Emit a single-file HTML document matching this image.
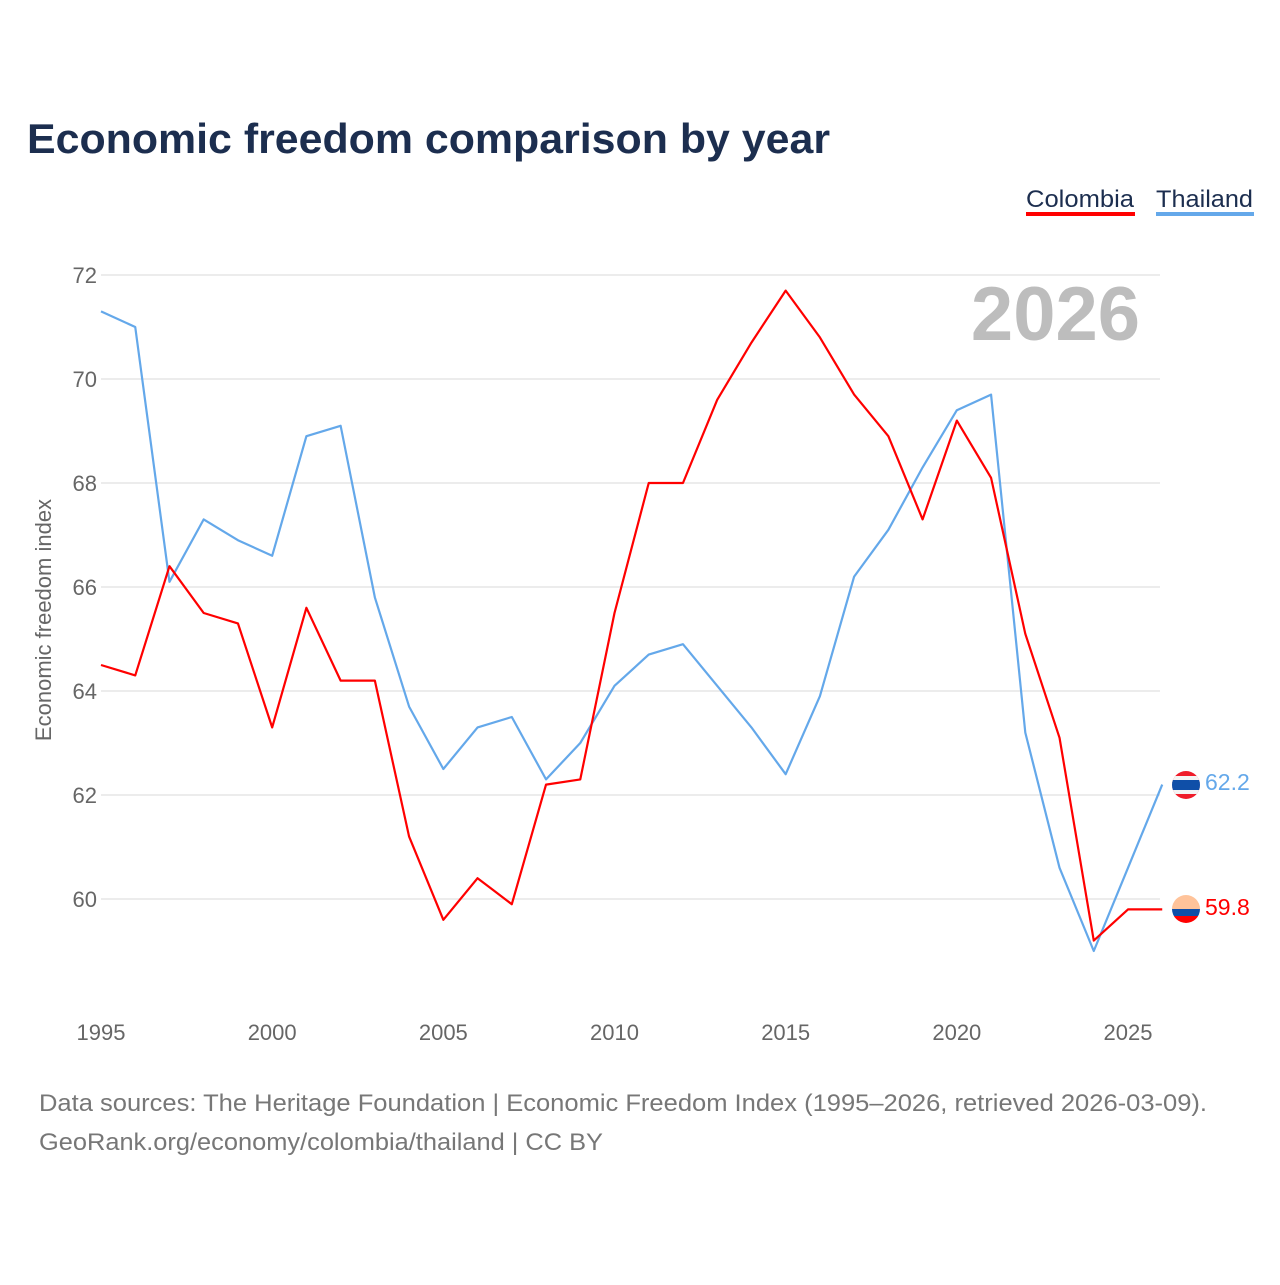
<!DOCTYPE html>
<html><head><meta charset="utf-8"><style>
body{margin:0;background:#fff;font-family:"Liberation Sans",sans-serif}
svg text{font-family:"Liberation Sans",sans-serif}
</style></head><body>
<svg width="1280" height="1280" viewBox="0 0 1280 1280">
<text x="27" y="153" font-size="42" font-weight="bold" fill="#1c2e4f" textLength="803" lengthAdjust="spacingAndGlyphs">Economic freedom comparison by year</text>
<g>
<text x="1026" y="207" font-size="24" fill="#1c2e4f" textLength="108" lengthAdjust="spacingAndGlyphs">Colombia</text>
<rect x="1026" y="212" width="109" height="4" fill="#ff0000"/>
<text x="1156" y="207" font-size="24" fill="#1c2e4f" textLength="97" lengthAdjust="spacingAndGlyphs">Thailand</text>
<rect x="1156" y="212" width="98" height="4" fill="#64a8ea"/>
</g>
<text x="1140" y="340" font-size="76" font-weight="bold" fill="#bdbdbd" text-anchor="end">2026</text>
<text transform="translate(51,620) rotate(-90)" font-size="22" fill="#666" text-anchor="middle">Economic freedom index</text>
<g id="grid"></g><g id="xt"></g><g id="lines"></g>
<defs>
<clipPath id="c1"><circle cx="1186" cy="785" r="14"/></clipPath>
<clipPath id="c2"><circle cx="1186" cy="909" r="14"/></clipPath>
</defs>
<g clip-path="url(#c1)">
<rect x="1172" y="771" width="28" height="28" fill="#ef1c2a"/>
<rect x="1172" y="776" width="28" height="18" fill="#f4f4f4"/>
<rect x="1172" y="780" width="28" height="10" fill="#0f4fa8"/>
</g>
<g clip-path="url(#c2)">
<rect x="1172" y="895" width="28" height="14" fill="#ffc39a"/>
<rect x="1172" y="909" width="28" height="7" fill="#0f4fa8"/>
<rect x="1172" y="916" width="28" height="7" fill="#ff0000"/>
</g>
<text x="1205" y="790" font-size="23" fill="#64a8ea">62.2</text>
<text x="1205" y="915" font-size="23" fill="#ff0000">59.8</text>
<text x="39" y="1111" font-size="24" fill="#777" textLength="1168" lengthAdjust="spacingAndGlyphs">Data sources: The Heritage Foundation | Economic Freedom Index (1995–2026, retrieved 2026-03-09).</text>
<text x="39" y="1150" font-size="24" fill="#777" textLength="564" lengthAdjust="spacingAndGlyphs">GeoRank.org/economy/colombia/thailand | CC BY</text>
</svg>
<script>
const years=[1995,1996,1997,1998,1999,2000,2001,2002,2003,2004,2005,2006,2007,2008,2009,2010,2011,2012,2013,2014,2015,2016,2017,2018,2019,2020,2021,2022,2023,2024,2025,2026];
const colombia=[64.5,64.3,66.4,65.5,65.3,63.3,65.6,64.2,64.2,61.2,59.6,60.4,59.9,62.2,62.3,65.5,68.0,68.0,69.6,70.7,71.7,70.8,69.7,68.9,67.3,69.2,68.1,65.1,63.1,59.2,59.8,59.8];
const thailand=[71.3,71.0,66.1,67.3,66.9,66.6,68.9,69.1,65.8,63.7,62.5,63.3,63.5,62.3,63.0,64.1,64.7,64.9,64.1,63.3,62.4,63.9,66.2,67.1,68.3,69.4,69.7,63.2,60.6,59.0,60.6,62.2];
const yTicks=[60,62,64,66,68,70,72];
const xTicks=[1995,2000,2005,2010,2015,2020,2025];
const NS="http://www.w3.org/2000/svg";
const x=v=>101+(v-1995)*(1128-101)/30;
const y=v=>899-(v-60)*52;
function mk(t,a,p){const e=document.createElementNS(NS,t);for(const k in a)e.setAttribute(k,a[k]);p.appendChild(e);return e;}
const grid=document.getElementById('grid');
yTicks.forEach(v=>{
 const l=mk('line',{x1:101,x2:1160,y1:y(v),y2:y(v),stroke:'#e6e6e6','stroke-width':1.5},grid);
 
 
 const t=mk('text',{x:97,y:y(v)+8,'font-size':22,fill:'#666','text-anchor':'end'},grid);
 t.textContent=v;
 
 
});
const xt=document.getElementById('xt');
xTicks.forEach(v=>{
 const t=mk('text',{x:x(v),y:1040,'font-size':22,fill:'#666','text-anchor':'middle'},xt);
 t.textContent=v;
 
 
});
const lines=document.getElementById('lines');
[[thailand,'#64a8ea','thailand-line'],[colombia,'#ff0000','colombia-line']].forEach(([d,c,n])=>{
 const p=mk('polyline',{points:d.map((v,i)=>x(years[i])+','+y(v)).join(' '),fill:'none',stroke:c,'stroke-width':2.2,'stroke-linejoin':'round'},lines);
 
 
});
</script>
</body></html>
